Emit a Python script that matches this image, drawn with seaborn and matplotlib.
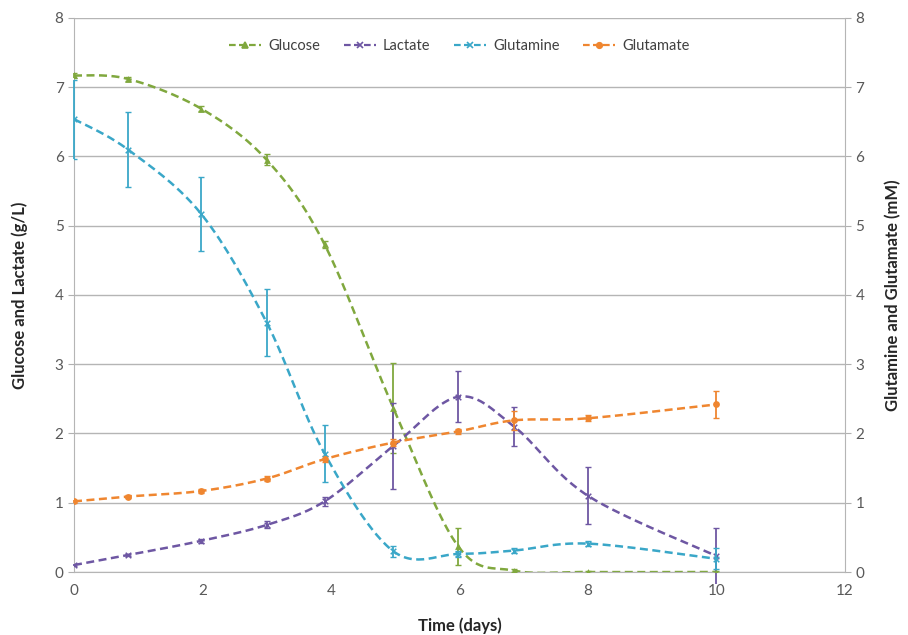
import numpy as np
import pandas as pd
import matplotlib
matplotlib.use('Agg')
import matplotlib.pyplot as plt
from matplotlib.lines import Line2D
import seaborn as sns

# data
days = [0, 0.84, 1.98, 3.0, 3.9, 4.97, 5.98, 6.85, 8.0, 10.0]
glucose = [7.17, 7.12, 6.69, 5.95, 4.73, 2.37, 0.37, 0.02, 0.0, 0.0]
glucose_err = [0.03, 0.03, 0.04, 0.08, 0.05, 0.65, 0.27, 0.02, 0.01, 0.01]
lactate = [0.10, 0.245, 0.45, 0.68, 1.02, 1.82, 2.53, 2.10, 1.10, 0.23]
lactate_err = [0.02, 0.02, 0.03, 0.05, 0.06, 0.62, 0.37, 0.28, 0.41, 0.40]
glutamine = [6.54, 6.10, 5.17, 3.60, 1.71, 0.30, 0.26, 0.31, 0.41, 0.19]
glutamine_err = [0.57, 0.54, 0.54, 0.48, 0.41, 0.08, 0.05, 0.04, 0.04, 0.15]
glutamate = [1.02, 1.09, 1.17, 1.35, 1.63, 1.87, 2.03, 2.19, 2.22, 2.42]
glutamate_err = [0.02, 0.02, 0.03, 0.03, 0.04, 0.05, 0.04, 0.14, 0.04, 0.20]

colors = {'Glucose': '#80a83e', 'Lactate': '#6e57a3', 'Glutamine': '#3aa7c8', 'Glutamate': '#ef8630'}
markers = {'Glucose': '^', 'Lactate': 'x', 'Glutamine': 'x', 'Glutamate': 'o'}


def smooth(x, y, n=30):
    # Excel-like smoothed line (Catmull-Rom style bezier)
    x = np.asarray(x, float)
    y = np.asarray(y, float)
    px = np.concatenate([[x[0]], x, [x[-1]]])
    py = np.concatenate([[y[0]], y, [y[-1]]])
    xs, ys = [], []
    t = np.linspace(0, 1, n)
    for i in range(1, len(px) - 2):
        p0 = np.array([px[i], py[i]])
        p3 = np.array([px[i + 1], py[i + 1]])
        c1 = p0 + (np.array([px[i + 1], py[i + 1]]) - np.array([px[i - 1], py[i - 1]])) / 6
        c2 = p3 - (np.array([px[i + 2], py[i + 2]]) - np.array([px[i], py[i]])) / 6
        b = ((1 - t) ** 3)[:, None] * p0 + (3 * (1 - t) ** 2 * t)[:, None] * c1 \
            + (3 * (1 - t) * t ** 2)[:, None] * c2 + (t ** 3)[:, None] * p3
        xs.extend(b[:, 0])
        ys.extend(b[:, 1])
    return np.array(xs), np.array(ys)


sns.set_style('white')
plt.rcParams['font.family'] = ['Lato', 'DejaVu Sans']

fig = plt.figure(figsize=(9.08, 6.35), dpi=100)
ax = fig.add_axes([0.0815, 0.0992, 0.8491, 0.8725])
ax2 = ax.twinx()

series = [
    ('Glucose', glucose, glucose_err, ax),
    ('Lactate', lactate, lactate_err, ax),
    ('Glutamine', glutamine, glutamine_err, ax2),
    ('Glutamate', glutamate, glutamate_err, ax2),
]

for name, vals, err, a in series:
    c = colors[name]
    sx, sy = smooth(days, vals)
    sns.lineplot(x=sx, y=sy, ax=a, color=c, linestyle=(0, (3.2, 1.8)), linewidth=1.8, sort=False, estimator=None)
    eb = a.errorbar(days, vals, yerr=err, fmt='none', ecolor=c, elinewidth=1.3, capsize=2.5, capthick=1.0, zorder=3)
    for art in eb.lines[2]:
        art.set_clip_on(False)
    sns.scatterplot(x=days, y=vals, ax=a, color=c, marker=markers[name], s=24 if markers[name] != 'x' else 16,
                    edgecolor=c, linewidth=1.1 if markers[name] == 'x' else 0, zorder=4)

for a in (ax, ax2):
    a.set_ylim(0, 8)
    a.set_yticks(range(0, 9))
    a.tick_params(axis='y', labelsize=11, labelcolor='#595959', length=4, color='#b0b0b0')
    for s in a.spines.values():
        s.set_visible(False)

ax.set_xlim(0, 12)
ax.set_xticks(range(0, 13, 2))
ax.tick_params(axis='x', labelsize=11, labelcolor='#595959', length=5, color='#b0b0b0', direction='out')
ax.grid(axis='y', color='#b5b5b5', linewidth=1)
ax.set_axisbelow(True)
ax.spines['left'].set_visible(True)
ax.spines['left'].set_color('#b5b5b5')
ax.spines['bottom'].set_visible(True)
ax.spines['bottom'].set_color('#b5b5b5')
ax2.spines['right'].set_visible(True)
ax2.spines['right'].set_color('#b5b5b5')

ax.set_xlabel('Time (days)', fontsize=12, fontweight='bold', color='#262626', labelpad=14)
ax.set_ylabel('Glucose and Lactate (g/L)', fontsize=12, fontweight='bold', color='#262626', labelpad=19)
ax2.set_ylabel('Glutamine and Glutamate (mM)', fontsize=12, fontweight='bold', color='#262626', labelpad=15)

handles = [Line2D([0], [0], color=colors[n], linestyle=(0, (3, 1.5)), linewidth=1.6,
                  marker=markers[n], markersize=4, markeredgewidth=1.2)
           for n in ['Glucose', 'Lactate', 'Glutamine', 'Glutamate']]
ax2.legend(handles, ['Glucose', 'Lactate', 'Glutamine', 'Glutamate'], loc='upper center',
           bbox_to_anchor=(0.5, 0.985), ncol=4, frameon=False, fontsize=10.5, handlelength=2.2,
           columnspacing=1.6, handletextpad=0.5, labelcolor='#404040')

fig.savefig('out.png', dpi=100)
